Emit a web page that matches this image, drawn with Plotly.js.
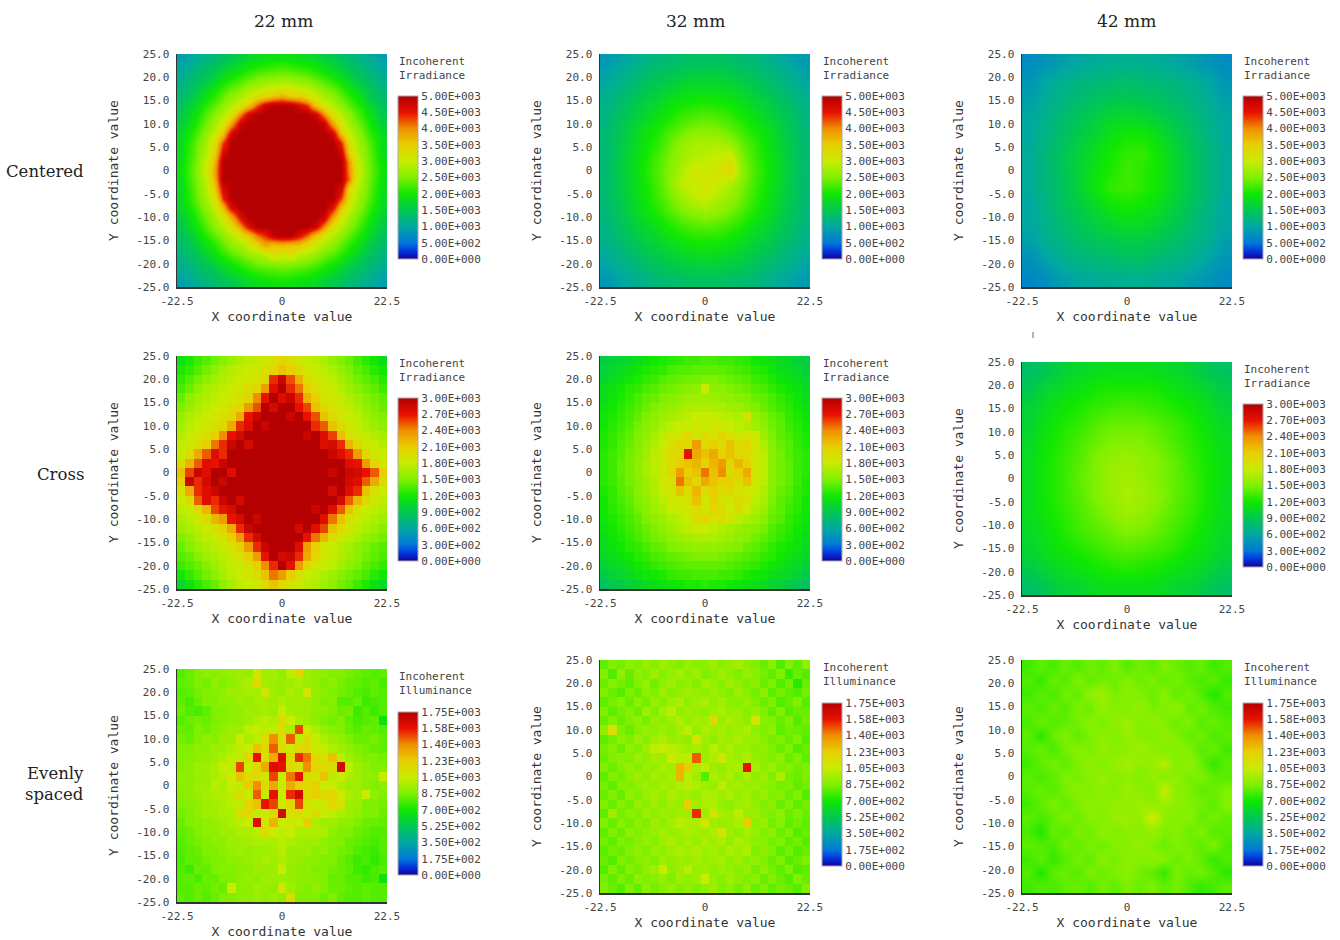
<!DOCTYPE html>
<html><head><meta charset="utf-8"><script src="https://cdn.plot.ly/plotly-3.0.1.min.js"></script>
<style>html,body{margin:0;padding:0;background:#fff}</style></head><body><div id="g" style="width:1340px;height:940px"></div>
<script>
// Values are read as percent of each panel's colour-scale maximum; first row is the top of the plot.
const centered22=[
[18,20,22,24,26,28,30,32,35,36,37,38,38,38,37,36,35,32,31,28,26,24,22,20,18],
[20,22,25,27,29,32,35,37,40,42,43,44,45,44,43,42,40,37,35,32,29,27,25,22,20],
[22,25,27,30,33,37,40,43,46,49,50,51,52,51,50,49,46,43,40,37,33,30,27,25,22],
[24,27,30,34,38,42,46,49,53,55,57,59,60,60,57,56,53,49,46,42,38,34,30,27,24],
[26,29,33,38,42,47,52,55,60,65,68,72,75,70,70,66,60,55,52,47,42,38,33,29,26],
[28,32,37,42,47,52,57,63,72,85,96,100,100,100,94,88,72,63,57,52,47,42,37,32,28],
[30,35,40,46,52,57,65,80,95,100,100,100,100,100,100,100,95,80,65,57,52,46,40,35,30],
[32,37,43,49,55,63,78,96,100,100,100,100,100,100,100,100,100,96,78,63,55,49,43,37,32],
[35,40,46,53,60,72,95,100,100,100,100,100,100,100,100,100,100,100,95,72,60,53,46,40,35],
[36,42,49,55,66,86,100,100,100,100,100,100,100,100,100,100,100,100,100,88,65,55,49,42,36],
[36,43,50,57,70,93,100,100,100,100,100,100,100,100,100,100,100,100,100,95,70,57,50,43,36],
[37,44,51,60,75,100,100,100,100,100,100,100,100,100,100,100,100,100,100,100,78,60,51,44,37],
[38,45,52,62,78,100,100,100,100,100,100,100,100,100,100,100,100,100,100,100,80,62,52,45,38],
[37,44,51,60,76,100,100,100,100,100,100,100,100,100,100,100,100,100,100,100,82,60,51,44,37],
[36,43,50,57,72,94,100,100,100,100,100,100,100,100,100,100,100,100,100,94,68,57,50,43,36],
[36,42,49,55,65,88,100,100,100,100,100,100,100,100,100,100,100,100,100,86,66,55,49,42,36],
[35,40,46,53,60,74,94,100,100,100,100,100,100,100,100,100,100,100,92,72,60,53,46,40,35],
[32,37,43,49,55,63,76,92,100,100,100,100,100,100,100,100,100,96,78,63,55,49,43,37,32],
[30,35,40,46,52,57,65,78,92,100,100,100,100,100,100,100,95,80,65,57,52,46,40,35,30],
[28,32,37,42,47,52,57,63,72,82,88,98,100,100,92,84,72,63,57,52,47,42,37,32,28],
[26,29,33,38,42,47,52,55,60,68,76,72,74,72,72,66,60,55,52,47,42,38,33,29,26],
[24,27,30,34,38,42,46,49,53,55,58,66,60,66,58,56,53,49,46,42,38,34,30,27,24],
[22,25,27,30,33,37,40,43,46,49,50,51,52,51,50,49,46,43,40,37,33,30,27,25,22],
[20,22,25,27,29,32,35,37,40,42,43,44,45,44,43,42,40,37,35,32,29,27,25,22,20],
[18,20,22,24,26,28,30,32,35,36,37,38,38,38,37,36,35,32,31,28,26,24,22,20,18]];
const centered32=[
[17,19,21,23,25,26,27,28,28,28,27,26,25,23,21,19,17],
[19,22,24,26,28,29,31,32,32,32,31,29,28,26,24,22,19],
[21,24,26,29,31,33,35,36,36,36,35,33,31,29,26,24,21],
[23,26,29,32,34,37,39,40,41,40,39,37,34,32,29,26,23],
[24,28,31,34,37,40,43,45,46,45,43,40,37,34,31,28,24],
[25,29,33,37,40,44,47,50,51,50,47,44,40,37,33,29,25],
[26,30,34,38,42,47,52,55,56,56,53,47,43,38,34,30,26],
[26,30,35,39,44,49,54,57,58,60,62,50,44,39,35,30,26],
[26,31,35,40,45,50,55,62,60,64,68,52,45,40,35,31,26],
[26,30,35,39,44,50,58,60,64,60,56,50,44,39,35,30,26],
[26,30,34,38,43,48,53,58,60,56,53,48,43,38,34,30,26],
[25,29,33,37,41,45,49,52,54,52,49,45,41,37,33,29,25],
[24,28,31,34,37,41,44,46,47,46,44,41,37,34,31,28,24],
[23,26,29,32,34,37,39,41,41,41,39,37,34,32,29,26,23],
[21,24,26,29,31,33,35,36,37,36,35,33,31,29,26,24,21],
[19,22,24,26,28,30,31,32,32,32,31,30,28,26,24,22,19],
[16,19,21,23,25,26,27,28,28,28,27,26,25,23,21,19,17]];
const centered42=[
[14,16,18,20,21,22,22,22,21,20,18,16,14],
[16,20,22,24,25,26,27,26,25,24,22,20,16],
[18,22,24,26,28,30,30,29,28,26,24,22,18],
[20,23,26,29,32,34,35,34,32,29,26,23,20],
[20,24,27,31,34,38,40,40,36,32,28,24,20],
[21,25,29,33,37,40,43,43,39,34,29,25,21],
[21,25,29,33,38,41,44,42,39,34,29,25,21],
[21,25,28,33,39,43,44,42,39,34,29,25,21],
[20,24,28,31,35,39,40,39,36,32,28,24,20],
[20,23,26,29,32,34,36,35,33,30,26,23,20],
[18,22,24,27,29,30,31,31,29,27,24,22,18],
[15,19,22,24,25,26,27,27,25,24,22,19,16],
[13,15,18,20,21,22,22,22,21,20,18,16,14]];
const cross22=[
[38,41,44,46,49,51,54,56,58,59,61,64,68,66,62,60,58,56,53,50,48,45,42,40,36],
[41,43,46,49,52,55,57,59,60,62,65,68,72,70,66,62,60,58,56,53,50,47,45,42,40],
[43,46,49,52,55,57,59,60,62,64,68,88,96,85,75,66,62,60,58,55,52,49,47,45,42],
[45,48,52,55,57,59,60,62,65,68,78,92,100,88,82,70,65,62,60,57,54,51,49,47,44],
[48,52,55,57,59,60,62,65,68,80,90,100,92,96,88,75,70,64,62,59,57,54,51,49,47],
[50,53,56,58,60,62,65,68,78,85,100,94,100,100,90,86,72,68,64,61,58,56,53,50,48],
[53,56,58,60,62,65,68,76,90,96,100,100,100,96,100,90,85,72,66,63,60,58,55,52,50],
[55,58,60,62,65,68,76,88,92,100,96,100,100,100,100,100,88,84,72,66,62,59,57,54,52],
[57,60,62,65,70,80,90,94,100,100,100,100,100,100,100,96,100,92,86,72,64,62,59,57,55],
[59,62,65,70,82,88,96,100,94,100,100,100,100,100,100,100,100,92,94,88,74,66,62,60,57],
[60,66,76,84,92,88,100,100,100,100,100,100,100,100,100,100,100,100,96,92,88,78,68,62,60],
[66,74,84,92,90,96,100,100,100,100,100,100,100,100,100,100,100,100,100,100,92,90,78,68,62],
[72,86,96,92,100,100,92,100,100,100,100,100,100,100,100,100,100,100,96,100,96,94,90,84,70],
[70,96,88,94,100,96,100,100,100,100,100,100,100,100,100,100,100,100,100,100,94,92,84,76,66],
[64,76,88,92,96,100,100,100,100,100,100,100,100,100,100,100,100,100,94,100,92,88,72,64,60],
[60,66,84,92,88,96,100,94,100,100,100,100,100,100,100,100,100,100,100,94,84,74,66,62,58],
[58,60,66,74,86,90,94,100,100,100,100,100,100,100,100,100,96,100,92,84,72,64,60,58,56],
[56,58,61,66,74,78,90,94,100,96,100,100,100,100,100,100,100,92,82,72,64,61,58,56,54],
[54,56,58,61,65,70,76,88,96,100,100,100,100,100,94,100,92,86,72,66,61,58,56,54,51],
[50,53,56,58,61,64,70,78,88,94,100,100,100,100,100,90,82,74,66,61,58,56,53,51,49],
[48,51,54,56,58,61,64,70,78,88,96,100,100,100,92,78,70,62,60,57,55,52,50,48,46],
[46,48,51,54,56,58,61,64,70,78,90,100,94,96,88,76,68,62,59,57,54,52,49,47,45],
[44,46,48,51,54,57,59,61,64,70,80,88,100,90,78,68,62,60,58,55,52,50,47,45,43],
[40,43,46,49,52,55,58,60,62,66,72,82,78,70,64,60,58,56,54,51,49,47,45,42,40],
[35,38,42,45,48,52,55,58,60,62,66,72,68,64,60,58,56,54,52,49,47,44,41,38,35]];
const cross32=[
[32,33,34,35,37,38,40,41,42,43,44,44,45,45,44,44,43,42,40,39,38,36,35,33,32],
[33,35,36,38,39,41,42,43,45,46,46,47,47,47,47,46,45,44,42,41,39,37,36,35,33],
[34,36,38,40,41,43,44,46,47,48,49,49,50,50,49,48,47,46,44,43,41,39,38,36,35],
[36,38,40,42,43,45,46,48,49,50,51,52,60,52,52,50,49,48,46,45,43,41,39,38,36],
[37,39,41,43,45,47,48,50,51,52,54,54,54,54,53,53,51,50,48,47,45,43,41,39,37],
[38,40,42,44,46,48,50,52,53,54,56,56,57,56,56,54,54,52,50,48,46,44,42,40,38],
[39,41,43,45,47,50,52,54,55,57,58,60,60,60,58,58,56,64,53,50,48,46,43,41,39],
[40,42,44,46,49,51,53,56,58,60,60,62,60,62,62,60,58,57,55,52,49,47,44,42,40],
[41,43,45,47,50,52,55,58,62,62,68,62,66,64,68,64,62,62,60,54,50,47,45,43,41],
[41,43,46,48,50,53,57,60,64,68,66,78,66,70,66,72,66,68,62,56,51,48,46,43,41],
[42,44,46,49,51,54,58,62,66,68,90,76,72,76,70,72,68,66,62,58,52,49,46,44,42],
[42,44,47,49,52,55,58,62,66,70,72,74,68,74,78,68,74,70,62,58,52,49,47,44,42],
[42,44,47,49,52,55,58,62,68,78,70,72,82,72,80,66,70,76,62,58,52,49,47,44,42],
[42,44,46,49,51,54,57,62,64,82,72,68,76,72,70,70,66,72,62,58,52,49,47,44,41],
[41,43,46,48,51,53,57,60,62,72,66,74,66,70,66,68,64,62,60,56,51,48,46,43,41],
[40,43,45,47,50,52,55,58,62,62,64,72,62,70,64,62,66,64,58,55,50,47,45,43,40],
[40,42,44,46,49,51,54,56,60,60,62,66,62,68,66,60,66,60,56,53,49,47,44,42,40],
[39,41,43,45,47,50,52,54,56,58,60,66,68,64,66,64,58,56,54,51,48,46,43,41,39],
[38,40,42,44,46,48,50,52,54,56,58,60,60,58,57,55,54,52,51,49,46,44,42,40,38],
[37,39,41,43,45,47,49,50,52,54,55,56,57,56,55,54,52,51,49,47,45,43,41,39,37],
[36,38,40,42,43,45,47,48,50,51,52,53,53,53,52,51,50,48,47,45,43,41,40,38,36],
[35,37,38,40,42,43,45,46,47,48,49,50,50,50,49,48,47,46,45,43,42,40,38,37,35],
[33,35,36,38,40,41,43,44,45,46,47,47,47,47,47,46,45,44,43,41,40,38,36,35,33],
[31,33,35,36,38,39,40,41,43,44,44,45,45,45,44,44,43,41,40,39,37,36,35,33,31],
[28,30,31,33,34,36,37,38,39,40,41,41,42,41,41,40,39,38,37,36,34,33,31,30,28]];
const cross42=[
[27,30,33,35,36,37,37,37,36,35,33,30,28],
[30,34,36,38,40,41,41,41,40,38,36,34,31],
[33,36,39,41,43,44,45,44,43,41,39,36,33],
[34,38,41,43,46,48,48,48,46,44,41,38,35],
[35,39,42,45,48,50,51,50,48,45,42,39,36],
[36,40,43,46,50,53,54,52,50,47,43,40,37],
[36,40,43,47,50,54,55,53,50,47,44,40,37],
[36,40,43,46,50,53,56,54,51,47,44,40,36],
[36,39,42,45,48,51,54,52,49,46,43,39,36],
[35,38,41,44,46,48,50,49,47,44,41,38,35],
[34,37,39,41,43,45,46,45,44,42,39,37,34],
[31,34,36,38,40,41,42,41,40,38,36,34,31],
[27,30,33,34,36,37,37,37,36,34,33,30,28]];
const even22=[
[46,48,50,52,51,52,53,54,53,62,54,55,52,58,68,54,52,52,50,50,49,48,47,46,47],
[47,48,50,49,52,50,52,54,56,66,55,54,53,54,56,54,53,50,52,49,48,47,46,47,45],
[46,47,49,50,51,52,54,54,55,55,62,54,53,56,54,62,53,52,50,49,48,46,45,47,46],
[47,45,48,50,50,52,52,54,53,55,55,54,56,54,55,54,53,50,51,46,46,48,44,45,46],
[48,46,45,47,50,50,52,52,54,54,55,54,60,55,54,54,52,52,50,48,49,44,46,44,46],
[46,48,49,48,50,51,52,53,54,56,58,56,66,60,56,54,52,50,49,50,47,45,46,47,38],
[48,47,50,49,51,52,54,54,58,60,58,58,66,56,86,60,56,53,51,50,48,46,48,47,46],
[49,48,50,52,51,54,54,60,56,58,66,80,64,84,58,66,60,56,54,52,50,48,48,49,47],
[50,50,52,52,54,54,56,58,60,72,66,84,66,62,68,68,60,60,56,54,52,50,49,48,47],
[50,51,52,53,54,56,58,58,68,90,64,76,92,68,88,82,66,64,72,58,54,52,50,50,49],
[51,52,54,54,56,60,58,86,60,68,76,92,90,66,64,80,68,66,66,94,58,54,52,50,50],
[52,52,53,54,56,58,60,72,66,66,62,86,60,82,90,66,64,72,58,60,56,54,52,52,60],
[52,52,54,54,58,56,60,58,70,80,66,76,60,76,70,66,70,60,60,56,54,54,52,50,52],
[51,52,53,55,56,57,58,66,60,84,60,90,60,88,94,66,70,66,68,60,56,54,60,52,50],
[50,51,52,54,55,56,58,58,68,72,90,86,60,68,86,64,60,62,68,64,54,54,50,50,49],
[49,50,52,54,54,56,56,66,68,58,60,66,94,64,66,60,66,60,58,56,54,52,50,50,48],
[48,50,51,52,53,54,56,58,60,92,62,74,60,62,60,70,56,54,54,52,52,50,48,48,47],
[47,48,50,52,52,54,54,56,56,58,66,60,58,60,56,56,56,56,52,50,50,48,47,46,46],
[46,48,49,50,52,52,54,54,55,56,56,56,58,56,55,54,54,52,51,50,48,47,46,45,46],
[46,47,48,50,50,52,53,54,53,54,54,55,58,54,54,54,52,53,50,49,48,46,45,44,46],
[45,47,47,49,50,50,52,52,53,54,56,54,56,54,53,52,52,50,50,48,46,44,45,43,45],
[46,44,48,47,50,51,50,52,52,54,53,54,60,53,52,52,50,50,49,48,47,44,43,45,46],
[46,47,45,48,48,50,50,52,53,52,54,54,54,53,52,52,51,50,48,48,46,46,44,45,38],
[46,46,48,47,49,48,60,52,52,54,53,52,62,54,52,50,52,50,48,48,47,46,47,46,46],
[47,46,48,46,48,50,50,52,52,54,52,54,52,66,50,50,50,48,50,47,46,46,47,46,46]];
const even32=[
[47,50,49,52,50,53,51,54,52,50,53,51,52,54,51,53,55,52,50,48,51,46,50,47,52],
[50,46,52,48,52,50,54,51,53,55,52,54,50,52,54,52,50,53,51,49,47,50,44,48,46],
[48,51,49,47,50,53,49,52,54,51,53,50,55,53,51,54,52,50,52,48,50,46,49,42,48],
[50,48,46,50,48,52,50,54,51,53,55,53,52,54,52,50,54,51,49,52,47,49,47,46,49],
[47,49,51,48,52,49,53,51,54,56,52,54,56,53,55,52,51,53,50,48,50,46,48,50,46],
[50,47,49,51,48,54,50,55,58,52,54,53,52,54,56,53,54,51,53,50,47,50,46,48,48],
[48,50,48,50,52,49,53,52,54,56,53,55,54,66,53,56,54,52,62,51,50,48,50,46,49],
[52,64,50,48,51,53,52,54,52,55,58,53,56,54,55,53,54,56,52,50,52,47,49,48,47],
[47,49,52,50,54,51,54,56,53,54,52,62,54,52,55,54,56,53,54,51,49,50,48,50,46],
[49,51,48,52,50,54,58,60,58,56,54,55,53,58,54,56,53,54,52,53,50,48,50,46,48],
[48,50,52,50,54,52,55,54,60,58,58,84,54,56,62,55,54,56,53,52,50,52,48,50,47],
[50,48,51,53,51,54,53,56,54,74,70,56,58,54,53,55,56,90,55,52,54,50,51,49,50],
[47,50,49,52,54,52,55,53,55,74,58,54,46,56,54,56,53,56,52,54,50,56,49,48,50],
[49,47,51,50,52,54,53,55,54,56,58,56,54,53,58,54,55,53,54,52,51,49,50,47,49],
[48,50,48,52,50,53,55,53,56,54,55,53,56,56,54,56,53,55,52,54,50,51,48,50,46],
[50,48,51,49,53,51,54,52,55,53,70,54,56,56,53,52,54,55,53,50,52,48,50,47,49],
[47,54,49,52,50,54,52,54,53,55,54,88,54,64,55,54,58,53,54,51,50,52,48,50,48],
[50,48,51,49,52,50,54,52,55,58,56,56,62,54,53,54,56,70,52,53,49,51,47,49,47],
[47,50,48,52,50,52,53,55,53,54,56,55,54,56,62,54,52,55,53,50,52,48,50,46,48],
[49,47,50,49,51,53,51,54,56,53,55,53,56,54,56,53,56,54,52,51,49,50,47,49,46],
[47,49,48,50,52,50,53,52,54,56,54,56,54,55,53,56,54,56,50,52,50,47,49,46,48],
[48,46,50,49,51,52,50,54,52,54,53,55,53,54,55,52,54,51,53,50,48,50,46,48,50],
[46,50,47,51,49,52,54,60,52,54,58,53,54,52,54,53,51,53,49,52,49,47,50,46,47],
[49,47,50,48,52,50,51,53,50,54,52,54,60,53,51,54,52,50,52,48,50,48,46,50,48],
[50,48,46,50,47,52,49,51,53,50,52,50,52,54,50,52,49,52,48,50,47,49,48,46,50]];
const even42=[
[44,47,45,48,46,49,47,50,46,49,47,50,48,46,48,44,46],
[46,43,48,46,50,47,49,48,51,48,50,47,49,47,45,47,43],
[44,47,45,49,47,52,54,49,51,50,48,51,47,49,46,41,46],
[47,45,48,46,50,48,53,51,50,53,49,50,52,47,49,46,44],
[45,48,46,47,49,51,49,52,54,50,52,50,48,50,46,48,46],
[47,42,48,50,47,50,52,50,53,51,50,52,50,47,49,45,47],
[46,48,45,49,51,49,53,51,52,54,52,50,51,50,46,48,44],
[44,47,49,47,50,52,50,53,55,52,53,57,50,52,48,43,47],
[47,45,47,50,49,51,53,51,52,50,53,51,52,49,50,47,46],
[46,48,46,49,51,50,52,50,54,52,50,60,51,50,47,48,50],
[44,47,50,47,50,52,51,53,52,54,52,53,52,50,49,47,51],
[47,45,47,50,48,51,50,53,54,52,62,52,50,51,47,49,47],
[45,41,48,46,50,48,52,50,52,51,53,50,51,48,50,46,47],
[47,46,45,49,47,50,48,51,50,53,50,48,50,49,47,50,45],
[44,47,43,46,49,47,51,49,52,50,52,51,48,50,47,43,46],
[46,41,47,48,46,50,48,50,51,49,47,43,50,47,49,46,42],
[44,46,45,47,48,46,49,47,50,48,50,47,49,46,43,45,47]];
const panelValues=[centered22,centered32,centered42,cross22,cross32,cross42,even22,even32,even42];
const scaleMax=[5000,5000,5000,3000,3000,3000,1750,1750,1750];
const smoothing=['best','best','best',false,false,'best',false,false,'best'];
const barValues5000=[0,500,1000,1500,2000,2500,3000,3500,4000,4500,5000];
const barText5000=['0.00E+000','5.00E+002','1.00E+003','1.50E+003','2.00E+003','2.50E+003','3.00E+003','3.50E+003','4.00E+003','4.50E+003','5.00E+003'];
const barValues3000=[0,300,600,900,1200,1500,1800,2100,2400,2700,3000];
const barText3000=['0.00E+000','3.00E+002','6.00E+002','9.00E+002','1.20E+003','1.50E+003','1.80E+003','2.10E+003','2.40E+003','2.70E+003','3.00E+003'];
const barValues1750=[0,175,350,525,700,875,1050,1225,1400,1575,1750];
const barText1750=['0.00E+000','1.75E+002','3.50E+002','5.25E+002','7.00E+002','8.75E+002','1.05E+003','1.23E+003','1.40E+003','1.58E+003','1.75E+003'];
const yTicks=[-25,-20,-15,-10,-5,0,5,10,15,20,25];
const yTickText=['-25.0','-20.0','-15.0','-10.0','-5.0','0','5.0','10.0','15.0','20.0','25.0'];
const xTicks=[-22.5,0,22.5];
const xTickText=['-22.5','0','22.5'];
const colHeads=['22 mm','32 mm','42 mm'];
const rowHeads=['Centered','Cross','Evenly<br>spaced'];
const barTitles=['Incoherent<br>Irradiance','Incoherent<br>Irradiance','Incoherent<br>Illuminance'];

const W=1340,H=940;
const plotLeft=[177,600,1022], plotTop=[[54,54,54],[356,356,362],[669,660,660]];
const plotW=210,plotH=233,barX=[398,822,1243],barOff=[42,42,43];
const colors=[[0,'#14009c'],[0.05,'#0038e0'],[0.1,'#0078d8'],[0.2,'#00a8a0'],[0.3,'#00c850'],[0.4,'#10e800'],[0.5,'#80f000'],[0.6,'#c8ec00'],[0.7,'#e8d000'],[0.8,'#f09000'],[0.9,'#e81000'],[1,'#b40000']];
const mono='"DejaVu Sans Mono",monospace', serif='"DejaVu Serif",serif', grey='#444';
const data=[],ann=[],layout={width:W,height:H,margin:{l:0,r:0,t:0,b:0},paper_bgcolor:'#fff',plot_bgcolor:'#fff',showlegend:false,font:{family:mono,size:11,color:grey}};
panelValues.forEach((rows,i)=>{
  const r=Math.floor(i/3),c=i%3,n=i?i+1:'',m=scaleMax[i];
  const nx=rows[0].length,ny=rows.length,dx=45/nx,dy=50/ny;
  const tv=m==5000?barValues5000:m==3000?barValues3000:barValues1750;
  const tt=m==5000?barText5000:m==3000?barText3000:barText1750;
  const t=plotTop[r][c];
  data.push({type:'heatmap',xaxis:'x'+n,yaxis:'y'+n,x0:-22.5+dx/2,dx:dx,y0:25-dy/2,dy:-dy,
    z:rows.map(a=>a.map(v=>v*m/100)),zmin:0,zmax:m,colorscale:colors,zsmooth:smoothing[i],hoverinfo:'skip',
    colorbar:{x:barX[c]/W,xanchor:'left',y:1-(t+barOff[r])/H,yanchor:'top',lenmode:'pixels',len:163,thicknessmode:'pixels',thickness:20,xpad:0,ypad:0,
      outlinewidth:1,outlinecolor:'#aaa',ticks:'',tickmode:'array',tickvals:tv,ticktext:tt,tickfont:{family:mono,size:11,color:grey}}});
  layout['xaxis'+n]={domain:[plotLeft[c]/W,(plotLeft[c]+plotW)/W],anchor:'y'+n,range:[-22.5,22.5],tickmode:'array',tickvals:xTicks,ticktext:xTickText,
    ticks:'outside',ticklen:3,tickcolor:'rgba(0,0,0,0)',showgrid:false,zeroline:false,showline:true,linecolor:'#333',linewidth:1.5,
    tickfont:{family:mono,size:11,color:grey},title:{text:'X coordinate value',standoff:5,font:{family:mono,size:13,color:'#333'}}};
  layout['yaxis'+n]={domain:[1-(t+plotH)/H,1-t/H],anchor:'x'+n,range:[-25,25],tickmode:'array',tickvals:yTicks,ticktext:yTickText,
    ticks:'outside',ticklen:4,tickcolor:'rgba(0,0,0,0)',showgrid:false,zeroline:false,showline:true,linecolor:'#333',linewidth:1.5,
    tickfont:{family:mono,size:11,color:grey},title:{text:'Y coordinate value',standoff:14,font:{family:mono,size:13,color:'#333'}}};
  ann.push({xref:'paper',yref:'paper',x:barX[c]/W,y:1-t/H,xanchor:'left',yanchor:'top',align:'left',showarrow:false,text:barTitles[r],font:{family:mono,size:11,color:'#444'},borderpad:0});
});
const headX=[283,695,1126];
colHeads.forEach((s,c)=>ann.push({xref:'paper',yref:'paper',x:headX[c]/W,y:1-21/H,xanchor:'center',yanchor:'middle',showarrow:false,text:s,font:{family:serif,size:17,color:'#222'}}));
const rowY=[172,474,784];
rowHeads.forEach((s,r)=>ann.push({xref:'paper',yref:'paper',x:86/W,y:1-rowY[r]/H,xanchor:'right',yanchor:'middle',align:'right',showarrow:false,text:s,font:{family:serif,size:16.5,color:'#222'}}));
layout.annotations=ann;
layout.shapes=[{type:'line',xref:'paper',yref:'paper',x0:1033/W,x1:1033/W,y0:1-332/H,y1:1-338/H,line:{color:'#666',width:1}}];
Plotly.newPlot('g',data,layout,{displayModeBar:false,staticPlot:true});
</script></body></html>
